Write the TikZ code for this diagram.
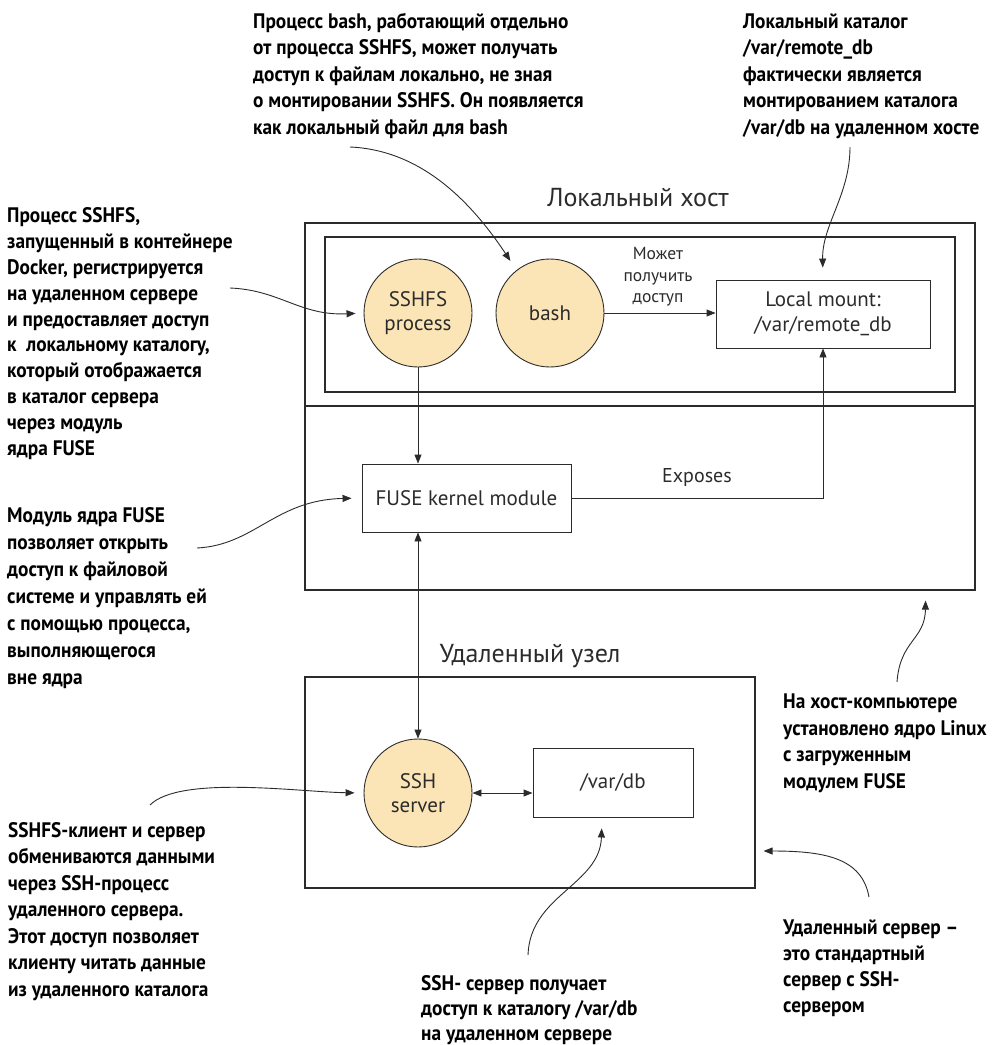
\documentclass[tikz,border=0pt]{standalone}
\usepackage{fontspec}
\setmainfont{PT Sans}
\newfontfamily\annfont[FakeStretch=0.92]{PT Sans Bold}
\usetikzlibrary{arrows.meta,calc}
\definecolor{circfill}{HTML}{FBE5B6}
\definecolor{ink}{HTML}{2B2B2B}
\tikzset{
  proc/.style={circle, draw=ink, fill=circfill, line width=0.9pt, minimum size=108pt, inner sep=0pt, align=center, text=ink, font=\fontsize{21}{24}\selectfont},
  boxnode/.style={rectangle, draw=ink, line width=0.9pt, inner sep=0pt, align=center, text=ink, font=\fontsize{21}{25}\selectfont},
  frame/.style={rectangle, draw=ink, line width=1.1pt, inner sep=0pt},
  ann/.style={anchor=base west, align=left, inner sep=0pt, text=black, font=\annfont\fontsize{21}{26.5}\selectfont},
  lbl/.style={inner sep=0pt, text=ink, align=center},
  conn/.style={draw=ink, line width=0.9pt, -{Triangle[length=9pt,width=7pt]}},
  dconn/.style={draw=ink, line width=0.9pt, {Triangle[length=9pt,width=7pt]}-{Triangle[length=9pt,width=7pt]}},
  ttl/.style={inner sep=0pt, text=ink, anchor=base, font=\fontsize{26}{30}\selectfont}
}
\begin{document}
\begin{tikzpicture}[x=1pt,y=-1pt]
\useasboundingbox (0,0) rectangle (994,1045);
% frames
\node[frame, minimum width=670pt, minimum height=367pt] (localhost) at (640,406.5) {};
\node[frame, minimum width=630pt, minimum height=155pt] (inner) at (640,314.5) {};
\draw[ink, line width=1.1pt] (localhost.west |- 0,406) coordinate (divl) -- (localhost.east |- 0,406) coordinate (divr);
\node[frame, minimum width=450pt, minimum height=211pt] (remote) at (530,782.5) {};
\node[ttl] (lhtitle) at (638,206) {Локальный хост};
\node[ttl] (rmtitle) at (530,662) {Удаленный узел};
% nodes
\node[proc] (sshfs) at (418,313) {SSHFS\\process};
\node[proc] (bash) at (550,313) {bash};
\node[boxnode, minimum width=214pt, minimum height=68pt] (lmount) at (823,314) {Local mount:\\/var/remote\_db};
\node[boxnode, minimum width=209pt, minimum height=68pt] (fuse) at (466.5,498) {FUSE kernel module};
\node[proc] (ssh) at (418,793) {SSH\\server};
\node[boxnode, minimum width=160pt, minimum height=69pt] (vardb) at (613,782.5) {/var/db};
% connectors
\draw[conn] (bash.east) -- (lmount.west |- bash.east);
\node[lbl, font=\fontsize{17.5}{21.5}\selectfont] (access) at (658,277) {Может\\получить\\доступ};
\draw[conn] (sshfs.south) -- (sshfs.south |- fuse.north);
\draw[conn] (fuse.east) -| (lmount.south);
\node[lbl, font=\fontsize{20}{24}\selectfont] (exposes) at (697,477) {Exposes};
\draw[dconn] (ssh.north |- fuse.south) -- (ssh.north);
\draw[dconn] (ssh.east) -- (vardb.west |- ssh.east);
% annotations (anchor = baseline of the last line)
\node[ann] (a1) at (253,134) {Процесс bash, работающий отдельно\\от процесса SSHFS, может получать\\доступ к файлам локально, не зная\\о монтировании SSHFS. Он появляется\\как локальный файл для bash};
\node[ann] (a2) at (743,134) {Локальный каталог\\/var/remote\_db\\фактически является\\монтированием каталога\\/var/db на удаленном хосте};
\node[ann, font=\annfont\fontsize{21}{25.8}\selectfont] (a3) at (7,455) {Процесс SSHFS,\\запущенный в контейнере\\Docker, регистрируется\\на удаленном сервере\\и предоставляет доступ\\к~~локальному каталогу,\\который отображается\\в каталог сервера\\через модуль\\ядра FUSE};
\node[ann, font=\annfont\fontsize{21}{27}\selectfont] (a4) at (7,684) {Модуль ядра FUSE\\позволяет открыть\\доступ к файловой\\системе и управлять ей\\с помощью процесса,\\выполняющегося\\вне ядра};
\node[ann] (a5) at (783,788) {На хост-компьютере\\установлено ядро Linux\\с загруженным\\модулем FUSE};
\node[ann] (a6) at (8,996) {SSHFS-клиент и сервер\\обмениваются данными\\через SSH-процесс\\удаленного сервера.\\Этот доступ позволяет\\клиенту читать данные\\из удаленного каталога};
\node[ann, font=\annfont\fontsize{21}{25}\selectfont] (a7) at (421,1040) {SSH- сервер получает\\доступ к каталогу /var/db\\на удаленном сервере};
\node[ann, font=\annfont\fontsize{21}{26}\selectfont] (a8) at (783,1012) {Удаленный сервер –\\это стандартный\\сервер с SSH-\\сервером};
% annotation leaders
\coordinate (a1s) at (350,147);
\coordinate (a2s) at (850,147);
\coordinate (a3s) at (230,288);
\coordinate (a4s) at (197,548);
\coordinate (a5s) at (897,682);
\coordinate (a6s) at (150,805);
\coordinate (a7s) at (528,955);
\coordinate (a8s) at (869,897);
\draw[conn, shorten >=11pt] (a1s) .. controls (420,150) and (470,200) .. (bash.128);
\draw[conn, shorten >=12pt] (a2s) .. controls (850,195) and (822,225) .. (lmount.north);
\draw[conn, shorten >=8pt] (a3s) .. controls (280,290) and (300,316) .. (sshfs.west);
\draw[conn, shorten >=10pt] (a4s) .. controls (255,545) and (275,500) .. (fuse.west);
\draw[conn] (a5s) .. controls (900,640) and (925,640) .. ([xshift=-50pt,yshift=-10pt]localhost.south east);
\draw[conn, shorten >=9pt] (a6s) .. controls (180,775) and (300,792) .. (ssh.west);
\draw[conn, shorten >=11pt] (a7s) .. controls (530,895) and (600,885) .. ([xshift=-11pt]vardb.south);
\draw[conn, shorten >=8pt] (a8s) .. controls (862,858) and (825,851) .. ([yshift=-68.5pt]remote.east);
\end{tikzpicture}
\end{document}
